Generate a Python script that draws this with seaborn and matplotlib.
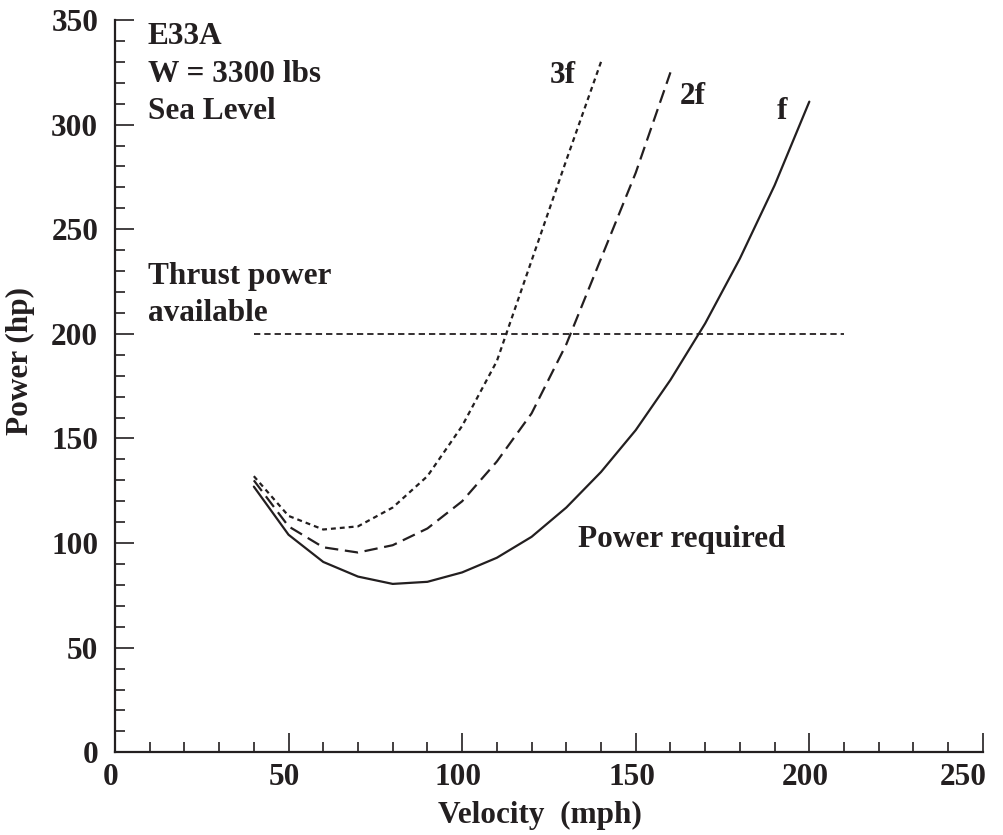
import numpy as np
import pandas as pd
import matplotlib
matplotlib.use("Agg")
import matplotlib.pyplot as plt
import matplotlib.transforms as mtransforms
import seaborn as sns
from matplotlib.ticker import MultipleLocator

# Power required curves (velocity in mph, power in hp)
vel_f = [40, 50, 60, 70, 80, 90, 100, 110, 120, 130, 140, 150, 160, 170, 180, 190, 200]
pwr_f = [127, 104, 91, 84, 80.5, 81.5, 86, 93, 103, 117, 134, 154, 178, 205, 236, 271, 311]

vel_2f = [40, 50, 60, 70, 80, 90, 100, 110, 120, 130, 140, 150, 160]
pwr_2f = [130, 108, 98, 95.5, 99, 107, 120, 139, 162, 195, 236, 277, 325]

vel_3f = [40, 50, 60, 70, 80, 90, 100, 110, 120, 130, 140]
pwr_3f = [132, 113, 106.5, 108, 117, 132, 156, 187, 235, 283, 330]

# Thrust power available
vel_avail = [40, 210]
pwr_avail = [200, 200]

sns.set_style("ticks")
plt.rcParams["font.family"] = ["Liberation Serif", "DejaVu Serif"]
plt.rcParams["font.weight"] = "bold"
ink = "#231f20"
fs = 22.5

df = pd.concat([
    pd.DataFrame({"Velocity": vel_f, "Power": pwr_f, "curve": "f"}),
    pd.DataFrame({"Velocity": vel_2f, "Power": pwr_2f, "curve": "2f"}),
    pd.DataFrame({"Velocity": vel_3f, "Power": pwr_3f, "curve": "3f"}),
])

fig = plt.figure(figsize=(10.04, 8.35), dpi=100)
ax = fig.add_axes([0.1145, 0.099, 0.8645, 0.877])

sns.lineplot(data=df, x="Velocity", y="Power", style="curve",
             dashes={"f": "", "2f": (6, 3), "3f": (2.2, 1.8)},
             color=ink, linewidth=1.6, sort=False, estimator=None,
             legend=False, ax=ax)
sns.lineplot(x=vel_avail, y=pwr_avail, color=ink, linewidth=1.3,
             dashes=False, ax=ax)
ax.lines[-1].set_dashes((3.5, 2.2))

ax.set_xlim(0, 250)
ax.set_ylim(0, 350)
ax.set_xticks([0, 50, 100, 150, 200, 250])
ax.set_yticks([0, 50, 100, 150, 200, 250, 300, 350])
ax.xaxis.set_minor_locator(MultipleLocator(10))
ax.yaxis.set_minor_locator(MultipleLocator(10))
ax.tick_params(which="major", direction="in", length=14, width=1.2,
               labelsize=fs, color=ink, labelcolor=ink)
ax.tick_params(which="minor", direction="in", length=7.5, width=1.2,
               color=ink)
ax.tick_params(axis="x", pad=8)
ax.tick_params(axis="y", pad=12)
for s in ["left", "bottom"]:
    ax.spines[s].set_linewidth(1.6)
    ax.spines[s].set_color(ink)
sns.despine(ax=ax)

# x tick labels sit a little left of their ticks; the last one ends at the axis end
for lab in ax.get_xticklabels():
    if lab.get_text() == "250":
        dx = 3
        lab.set_horizontalalignment("right")
    else:
        dx = -3
    shift = mtransforms.ScaledTranslation(dx / 72, 0, fig.dpi_scale_trans)
    lab.set_transform(lab.get_transform() + shift)

ax.set_xlabel("Velocity  (mph)", fontsize=fs, fontweight="bold", color=ink)
ax.set_ylabel("Power (hp)", fontsize=fs, fontweight="bold", color=ink)
ax.xaxis.set_label_coords(0.49, -0.066)
ax.yaxis.set_label_coords(-0.092, 0.535)

txt = dict(fontsize=fs, fontweight="bold", color=ink, va="baseline")
ax.text(9.5, 338.5, "E33A", **txt)
ax.text(9.5, 320.3, "W = 3300 lbs", **txt)
ax.text(9.5, 302.6, "Sea Level", **txt)
ax.text(9.5, 223.7, "Thrust power", **txt)
ax.text(9.5, 206.0, "available", **txt)
ax.text(125.2, 320, "3f", **txt)
ax.text(162.6, 309.8, "2f", **txt)
ax.text(190.6, 302.6, "f", **txt)
ax.text(133.3, 98.3, "Power required", **txt)

fig.savefig("out.png", dpi=100)
